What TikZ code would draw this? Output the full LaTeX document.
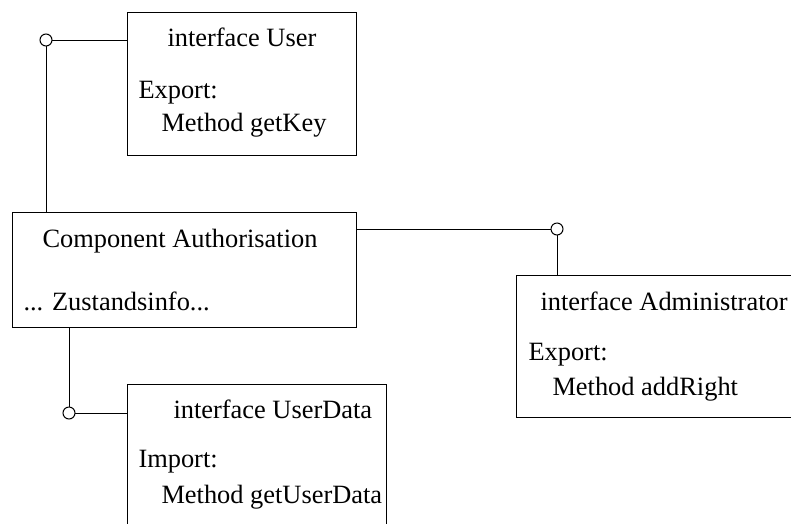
\documentclass[tikz,border=0pt]{standalone}
\usepackage{fontspec}
\setmainfont{Liberation Serif}
\usetikzlibrary{positioning}
\usetikzlibrary{calc}

\tikzset{
  box/.style={draw, rectangle, anchor=north west, inner sep=0pt},
  port/.style={draw, circle, fill=white, inner sep=0pt, minimum size=12pt},
  txt/.style={anchor=base west, inner sep=0pt},
  ttl/.style={anchor=base west, inner sep=0pt},
}

\begin{document}
\begin{tikzpicture}[x=1pt, y=-1pt, line width=1pt, font=\fontsize{26.4}{30}\selectfont]
            \useasboundingbox (0,0) rectangle (791,523);
            \clip (0,0) rectangle (791,523);
            % boxes
            \node[box, minimum width=229.5pt, minimum height=143pt] (user) at (126.5,11.5) {};
            \node[box, minimum width=344pt, minimum height=114.5pt] (comp) at (12,212) {};
            \node[box, minimum width=300pt, minimum height=142pt] (admin) at (516,275) {};
            \node[box, minimum width=259.5pt, minimum height=160pt] (udata) at (126.5,384) {};
            % texts
            \node[ttl] (tuser) at (167,46) {interface User};
            \node[txt] (euser) at (138,98) {Export:};
            \node[txt] (muser) at (161,131) {Method getKey};
            \node[ttl] (tcomp) at (42,247) {Component Authorisation};
            \node[txt] (zcomp) at (23,310) {... Zustandsinfo...};
            \node[ttl] (tadmin) at (540,310) {interface Administrator};
            \node[txt] (eadmin) at (528,360) {Export:};
            \node[txt] (madmin) at (552,395) {Method addRight};
            \node[ttl] (tudata) at (173,418) {interface UserData};
            \node[txt] (iudata) at (138,467) {Import:};
            \node[txt] (mudata) at (161,503) {Method getUserData};
            % connectors
            \coordinate (cu) at (46,40);
            \coordinate (ca) at (557,229);
            \coordinate (cd) at (69,413);
            \draw (cu |- comp.north) -- (cu) -- (cu -| user.west);
            \draw (comp.east |- ca) -- (ca) -- (ca |- admin.north);
            \draw (cd |- comp.south) -- (cd) -- (cd -| udata.west);
            \node[port] (pu) at (cu) {};
            \node[port] (pa) at (ca) {};
            \node[port] (pd) at (cd) {};
        \end{tikzpicture}
\end{document}
